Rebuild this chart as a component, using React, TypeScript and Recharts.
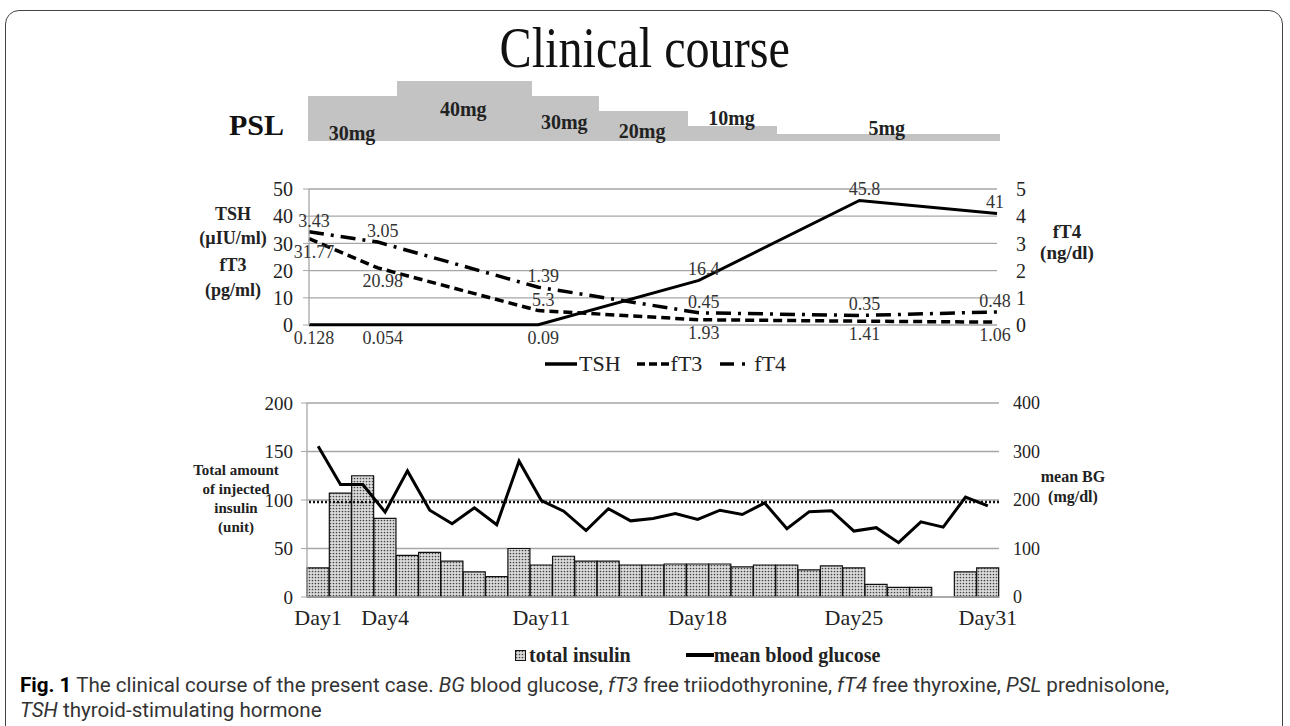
import React from "react";
import {
  Bar,
  BarChart,
  CartesianGrid,
  ComposedChart,
  LabelList,
  Line,
  LineChart,
  ReferenceLine,
  XAxis,
  YAxis
} from "recharts";

// hospital days on the shared x axis
const days = [1, 2, 3, 4, 5, 6, 7, 8, 9, 10, 11, 12, 13, 14, 15, 16, 17, 18, 19, 20, 21, 22, 23, 24, 25, 26, 27, 28, 29, 30, 31];

// prednisolone dose per day (mg)
const pslDose = [30, 30, 30, 30, 40, 40, 40, 40, 40, 40, 30, 30, 30, 20, 20, 20, 20, 10, 10, 10, 10, 5, 5, 5, 5, 5, 5, 5, 5, 5, 5];

// thyroid labs
const labDays = [1, 4, 11, 18, 25, 31];
const tshValues = [0.128, 0.054, 0.09, 16.4, 45.8, 41];
const ft3Values = [31.77, 20.98, 5.3, 1.93, 1.41, 1.06];
const ft4Values = [3.43, 3.05, 1.39, 0.45, 0.35, 0.48];

// insulin (unit/day) and mean blood glucose (mg/dl)
const insulinUnits = [30, 107, 125, 81, 43, 46, 37, 26, 21, 50, 33, 42, 37, 37, 33, 33, 34, 34, 34, 31, 33, 33, 28, 32, 30, 13, 10, 10, null, 26, 30];
const meanBG = [311, 232, 232, 175, 260, 179, 151, 184, 149, 280, 199, 177, 137, 182, 157, 162, 172, 160, 179, 170, 194, 141, 176, 178, 136, 143, 112, 155, 144, 206, 188];
const bgTarget = 196;

const dayTickDays = [1, 4, 11, 18, 25, 31];

const labAt = (values: number[], day: number) => {
  const k = labDays.indexOf(day);
  return k >= 0 ? values[k] : null;
};

const dayData = days.map((day, i) => ({
  day,
  psl: pslDose[i],
  insulin: insulinUnits[i],
  bg: meanBG[i],
  tsh: labAt(tshValues, day),
  ft3: labAt(ft3Values, day),
  ft4: labAt(ft4Values, day)
}));

// consecutive days with the same dose -> one PSL step
const pslSegments: { start: number; count: number; dose: number }[] = [];
pslDose.forEach((d, i) => {
  const last = pslSegments[pslSegments.length - 1];
  if (last && last.dose === d) last.count += 1;
  else pslSegments.push({ start: i, count: 1, dose: d });
});

const SERIF = '"Liberation Serif", "Times New Roman", serif';
const GRID = "#a6a6a6";
const INK = "#222";
const PSL_GRAY = "#c3c3c3";

const PSL_LABEL_Y = [52, 28, 41, 50, 37, 47];

const LAB_SIDE: Record<string, string[]> = {
  tsh: ["b", "b", "b", "t", "t", "t"],
  ft3: ["b", "b", "t", "b", "b", "b"],
  ft4: ["t", "t", "t", "t", "t", "t"]
};

const pos = (p: any) => ({
  x: p.x ?? p.viewBox?.x,
  y: p.y ?? p.viewBox?.y,
  width: p.width ?? p.viewBox?.width
});

const renderPslLabel = (props: any) => {
  const { x, width } = pos(props);
  const segIdx = pslSegments.findIndex((s) => s.start === props.index);
  if (segIdx < 0 || x == null) return null;
  const seg = pslSegments[segIdx];
  return (
    <text
      x={x + (width * seg.count) / 2}
      y={PSL_LABEL_Y[segIdx]}
      textAnchor="middle"
      dominantBaseline="central"
      fontFamily={SERIF}
      fontWeight="bold"
      fontSize={20}
      fill={INK}
    >
      {seg.dose}mg
    </text>
  );
};

// step block without anti-aliased seams between days
const PslBlock = (p: any) => (
  <rect x={p.x} y={p.y} width={p.width + 0.8} height={p.height} fill={PSL_GRAY} shapeRendering="crispEdges" />
);

const labLabel = (key: string) => (props: any) => {
  const { x, y } = pos(props);
  const v = props.value;
  if (v == null || x == null || y == null) return null;
  const k = labDays.indexOf(props.index + 1);
  const below = LAB_SIDE[key][k] === "b";
  const dx = k === labDays.length - 1 ? -2 : 5;
  return (
    <text x={x + dx} y={below ? y + 19 : y - 5} textAnchor="middle" fontFamily={SERIF} fontSize={18} fill="#333">
      {v}
    </text>
  );
};

const renderDayTick = (props: any) => {
  const { x, y, payload } = props;
  if (!dayTickDays.includes(payload.value)) return <g />;
  return (
    <text x={x} y={y + 20} textAnchor="middle" fontFamily={SERIF} fontSize={22} fill={INK}>
      Day{payload.value}
    </text>
  );
};

const abs = (left: number, top: number, extra: React.CSSProperties = {}): React.CSSProperties => ({
  position: "absolute",
  left,
  top,
  ...extra
});

function AxisTitle({ lines, cx, top, size, gap }: { lines: string[]; cx: number; top: number; size: number; gap: number }) {
  return (
    <div
      style={abs(cx - 80, top, {
        width: 160,
        textAlign: "center",
        fontFamily: SERIF,
        fontWeight: "bold",
        fontSize: size,
        lineHeight: `${gap}px`,
        color: INK
      })}
    >
      {lines.map((l) => (
        <div key={l}>{l}</div>
      ))}
    </div>
  );
}

function LegendLine({ dash, width = 32 }: { dash?: string; width?: number }) {
  return (
    <svg width={width} height={8} style={{ display: "block" }}>
      <line x1={0} y1={4} x2={width} y2={4} stroke="#000" strokeWidth={3.5} strokeDasharray={dash} />
    </svg>
  );
}

export default function App() {
  return (
    <div style={{ position: "absolute", left: 0, top: 0, width: 1290, height: 726, overflow: "hidden", background: "#fff" }}>
      <div style={abs(5, 10, { width: 1276, height: 800, border: "1.5px solid #444", borderRadius: 14 })} />

      <div style={abs(0, 17, { width: 1290, textAlign: "center", lineHeight: "62px" })}>
        <span style={{ display: "inline-block", fontFamily: SERIF, fontSize: 56, color: "#111", transform: "scaleX(0.86)" }}>
          Clinical course
        </span>
      </div>

      <div style={abs(229, 107, { fontFamily: SERIF, fontWeight: "bold", fontSize: 30, lineHeight: "36px", color: "#111" })}>PSL</div>

      <div style={abs(308, 81)}>
        <BarChart width={692} height={80} data={dayData} margin={{ top: 0, right: 0, bottom: 20, left: 0 }} barCategoryGap={0} barGap={0}>
          <XAxis dataKey="day" hide />
          <YAxis hide domain={[0, 40]} />
          <Bar dataKey="psl" shape={PslBlock} isAnimationActive={false}>
            <LabelList dataKey="psl" content={renderPslLabel} />
          </Bar>
        </BarChart>
      </div>

      <AxisTitle lines={["TSH", "(\u00b5IU/ml)"]} cx={233} top={202} size={18} gap={24} />
      <AxisTitle lines={["fT3", "(pg/ml)"]} cx={233} top={253} size={18} gap={25} />
      <AxisTitle lines={["fT4", "(ng/dl)"]} cx={1067} top={221} size={19} gap={21} />

      <div style={abs(200, 175)}>
        <LineChart width={857} height={190} data={dayData} margin={{ top: 14, right: 0, bottom: 40, left: 0 }}>
          <CartesianGrid yAxisId="left" vertical={false} stroke={GRID} strokeWidth={1.3} />
          <XAxis dataKey="day" hide />
          <YAxis
            yAxisId="left"
            width={109}
            domain={[0, 50]}
            ticks={[0, 10, 20, 30, 40, 50]}
            interval={0}
            tick={{ fontSize: 20, fill: INK, fontFamily: SERIF }}
            tickLine={{ stroke: GRID }}
            tickSize={6}
            tickMargin={10}
            axisLine={{ stroke: GRID, strokeWidth: 1.3 }}
          />
          <YAxis
            yAxisId="right"
            orientation="right"
            width={60}
            domain={[0, 5]}
            ticks={[0, 1, 2, 3, 4, 5]}
            interval={0}
            tick={{ fontSize: 20, fill: INK, fontFamily: SERIF }}
            tickLine={false}
            tickSize={0}
            tickMargin={19}
            axisLine={false}
          />
          <Line yAxisId="left" dataKey="tsh" stroke="#000" strokeWidth={3} dot={false} connectNulls isAnimationActive={false}>
            <LabelList dataKey="tsh" content={labLabel("tsh")} />
          </Line>
          <Line yAxisId="left" dataKey="ft3" stroke="#000" strokeWidth={3.5} strokeDasharray="9 5" dot={false} connectNulls isAnimationActive={false}>
            <LabelList dataKey="ft3" content={labLabel("ft3")} />
          </Line>
          <Line yAxisId="right" dataKey="ft4" stroke="#000" strokeWidth={3.5} strokeDasharray="15 7 3 7" dot={false} connectNulls isAnimationActive={false}>
            <LabelList dataKey="ft4" content={labLabel("ft4")} />
          </Line>
        </LineChart>
      </div>

      <div style={abs(545, 351, { display: "flex", alignItems: "center", fontFamily: SERIF, fontSize: 22, lineHeight: "26px", color: INK })}>
        <LegendLine />
        <span style={{ marginLeft: 2, marginRight: 16 }}>TSH</span>
        <LegendLine dash="8 4" />
        <span style={{ marginLeft: 2, marginRight: 18 }}>fT3</span>
        <LegendLine dash="14 8 3 8" width={30} />
        <span style={{ marginLeft: 4 }}>fT4</span>
      </div>

      <AxisTitle lines={["Total amount", "of injected", "insulin", "(unit)"]} cx={236} top={461} size={15} gap={19} />
      <AxisTitle lines={["mean BG", "(mg/dl)"]} cx={1073} top={467} size={16} gap={20} />

      <div style={abs(200, 390)}>
        <ComposedChart width={859} height={247} data={dayData} margin={{ top: 13, right: 0, bottom: 0, left: 0 }} barCategoryGap={0} barGap={0}>
          <defs>
            <pattern id="stipple" width={3} height={3} patternUnits="userSpaceOnUse">
              <rect width={3} height={3} fill="#dcdcdc" />
              <circle cx={1.5} cy={1.5} r={0.85} fill="#444" />
            </pattern>
          </defs>
          <CartesianGrid yAxisId="left" vertical={false} stroke={GRID} strokeWidth={1.3} />
          <XAxis dataKey="day" height={40} interval={0} tickLine={false} axisLine={{ stroke: GRID, strokeWidth: 1.3 }} tick={renderDayTick} />
          <YAxis
            yAxisId="left"
            width={107}
            domain={[0, 200]}
            ticks={[0, 50, 100, 150, 200]}
            interval={0}
            tick={{ fontSize: 19, fill: INK, fontFamily: SERIF }}
            tickLine={{ stroke: GRID }}
            tickSize={6}
            tickMargin={8}
            axisLine={{ stroke: GRID, strokeWidth: 1.3 }}
          />
          <YAxis
            yAxisId="right"
            orientation="right"
            width={60}
            domain={[0, 400]}
            ticks={[0, 100, 200, 300, 400]}
            interval={0}
            tick={{ fontSize: 18, fill: INK, fontFamily: SERIF }}
            tickLine={false}
            tickSize={0}
            tickMargin={14}
            axisLine={false}
          />
          <Bar yAxisId="left" dataKey="insulin" fill="url(#stipple)" stroke="#111" strokeWidth={1.2} isAnimationActive={false} />
          <ReferenceLine yAxisId="right" y={bgTarget} stroke="#111" strokeDasharray="2 2" strokeWidth={2.5} />
          <Line yAxisId="right" dataKey="bg" stroke="#000" strokeWidth={3} dot={false} isAnimationActive={false} />
        </ComposedChart>
      </div>

      <div style={abs(515, 642, { display: "flex", alignItems: "center", fontFamily: SERIF, fontWeight: "bold", fontSize: 20, lineHeight: "26px", color: INK })}>
        <svg width={11} height={11} style={{ display: "block", marginRight: 3 }}>
          <defs>
            <pattern id="stipple-key" width={3} height={3} patternUnits="userSpaceOnUse">
              <rect width={3} height={3} fill="#dcdcdc" />
              <circle cx={1.5} cy={1.5} r={0.85} fill="#444" />
            </pattern>
          </defs>
          <rect x={0.5} y={0.5} width={10} height={10} fill="url(#stipple-key)" stroke="#111" />
        </svg>
        <span style={{ marginRight: 55 }}>total insulin</span>
        <svg width={28} height={6} style={{ display: "block" }}>
          <line x1={0} y1={3} x2={28} y2={3} stroke="#000" strokeWidth={4} />
        </svg>
        <span>mean blood glucose</span>
      </div>

      <div style={abs(20, 673, { fontFamily: "Roboto, sans-serif", fontSize: 20.6, lineHeight: "25px", color: "#333", whiteSpace: "nowrap" })}>
        <b style={{ color: "#000" }}>Fig. 1</b> The clinical course of the present case. <i>BG</i> blood glucose, <i>fT3</i> free triiodothyronine,{" "}
        <i>fT4</i> free thyroxine, <i>PSL</i> prednisolone,
        <br />
        <i>TSH</i> thyroid-stimulating hormone
      </div>
    </div>
  );
}
